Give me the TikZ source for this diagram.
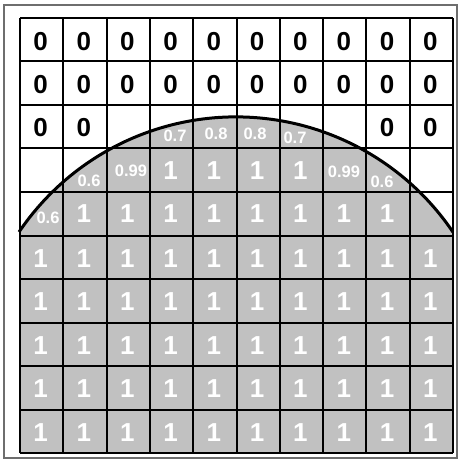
\documentclass[tikz,border=0pt]{standalone}
\usepackage{fontspec}
\setmainfont{Liberation Sans}
\definecolor{cellgray}{RGB}{193,193,193}
\definecolor{framegray}{RGB}{110,110,110}
\begin{document}
\begin{tikzpicture}[x=1pt,y=-1pt,
  big/.style={inner sep=0pt,font=\bfseries\fontsize{26}{30}\selectfont},
  zero/.style={big,text=black},
  one/.style={big,text=white},
  frac/.style={inner sep=0pt,text=white,font=\bfseries\fontsize{16.5}{20}\selectfont},
  gridline/.style={line width=2pt,black},
  arcline/.style={line width=3pt,black}]
\useasboundingbox (0,0) rectangle (465,465);
\draw[framegray,line width=1.2pt] (4,5) rectangle (457,458);
% gray region under the arc
\fill[cellgray] (19,232) arc[start angle=-145.9,end angle=-34.1,radius=262] -- (453,453) -- (20,453) -- cycle;
% grid
\foreach \c in {0,...,10} {
  \draw[gridline] ({20+43.3*\c},18) -- ({20+43.3*\c},453);
}
\foreach \r in {0,...,10} {
  \draw[gridline] (20,{18+43.5*\r}) -- (453,{18+43.5*\r});
}
% arc
\draw[arcline] (19,232) arc[start angle=-145.9,end angle=-34.1,radius=262];
% zeros
\foreach \r in {1,2} {
  \foreach \c in {1,...,10} {
    \node[zero] (z-\r-\c) at ({20+43.3*(\c-0.5)-1},{18+43.5*(\r-0.5)+1.5}) {0};
  }
}
\foreach \c in {1,2,9,10} {
  \node[zero] (z-3-\c) at ({20+43.3*(\c-0.5)-1},{18+43.5*2.5+1}) {0};
}
% ones
\foreach \c in {4,...,7} {
  \node[one] (o-4-\c) at ({20+43.3*(\c-0.5)-1},{18+43.5*3.5}) {1};
}
\foreach \c in {2,...,9} {
  \node[one] (o-5-\c) at ({20+43.3*(\c-0.5)-1},{18+43.5*4.5}) {1};
}
\foreach \r in {6,...,10} {
  \foreach \c in {1,...,10} {
    \node[one] (o-\r-\c) at ({20+43.3*(\c-0.5)-1},{18+43.5*(\r-0.5)+1}) {1};
  }
}
% fractional values
\node[frac] (f-3-4) at (175,136) {0.7};
\node[frac] (f-3-5) at (216,134) {0.8};
\node[frac] (f-3-6) at (255,134) {0.8};
\node[frac] (f-3-7) at (295,138) {0.7};
\node[frac] (f-4-2) at (89,181) {0.6};
\node[frac] (f-4-3) at (131,171) {0.99};
\node[frac] (f-4-8) at (344,172) {0.99};
\node[frac] (f-4-9) at (382,182) {0.6};
\node[frac] (f-5-1) at (48,218) {0.6};
\end{tikzpicture}
\end{document}
